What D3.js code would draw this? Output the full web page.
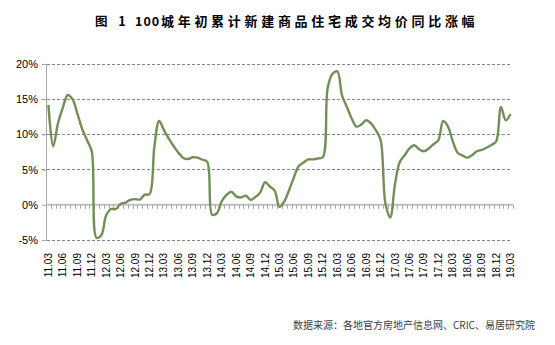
<!DOCTYPE html>
<html><head><meta charset="utf-8">
<script src="https://cdn.jsdelivr.net/npm/d3@7"></script>
<style>body{margin:0;background:#fff}svg{display:block}</style>
</head><body>
<svg id="c" width="555" height="345"></svg>
<script>
const categories = [
"11.03","11.04","11.05","11.06","11.07","11.08","11.09","11.10","11.11","11.12",
"12.01","12.02","12.03","12.04","12.05","12.06","12.07","12.08","12.09","12.10","12.11","12.12",
"13.01","13.02","13.03","13.04","13.05","13.06","13.07","13.08","13.09","13.10","13.11","13.12",
"14.01","14.02","14.03","14.04","14.05","14.06","14.07","14.08","14.09","14.10","14.11","14.12",
"15.01","15.02","15.03","15.04","15.05","15.06","15.07","15.08","15.09","15.10","15.11","15.12",
"16.01","16.02","16.03","16.04","16.05","16.06","16.07","16.08","16.09","16.10","16.11","16.12",
"17.01","17.02","17.03","17.04","17.05","17.06","17.07","17.08","17.09","17.10","17.11","17.12",
"18.01","18.02","18.03","18.04","18.05","18.06","18.07","18.08","18.09","18.10","18.11","18.12",
"19.01","19.02","19.03"];
const values = [
14.2,8.3,11.6,13.8,15.6,15.0,13.0,10.8,9.2,7.6,
-4.7,-4.3,-1.5,-0.6,-0.6,0.15,0.3,0.7,0.8,0.75,1.45,1.5,
8.2,11.9,10.6,9.4,8.35,7.4,6.65,6.5,6.75,6.7,6.4,6.1,
-1.4,-1.2,0.5,1.4,1.85,1.2,1.05,1.3,0.7,1.1,1.75,3.2,
2.6,2.0,-0.3,0.5,2.1,3.9,5.5,6.0,6.45,6.45,6.6,6.75,
16.6,18.6,18.95,15.5,13.9,12.25,11.1,11.4,12.0,11.55,10.6,9.2,
0.2,-1.8,3.0,6.1,7.05,8.0,8.45,7.9,7.6,8.0,8.6,9.2,
11.9,11.1,9.0,7.4,7.0,6.7,7.05,7.6,7.8,8.1,8.5,9.0,
13.9,12.0,12.9];
const yTicks = [-5,0,5,10,15,20];
const tickLabels = ["11.03","11.06","11.09","11.12","12.03","12.06","12.09","12.12","13.03","13.06","13.09","13.12","14.03","14.06","14.09","14.12","15.03","15.06","15.09","15.12","16.03","16.06","16.09","16.12","17.03","17.06","17.09","17.12","18.03","18.06","18.09","18.12","19.03"];
const titleA = "图 1", titleB = "100", titleC = "城年初累计新建商品住宅成交均价同比涨幅";
const source = "数据来源：各地官方房地产信息网、CRIC、易居研究院";

const svg = d3.select("#c");
const L = 46, R = 513, T = 64, B = 240;
const x = d3.scaleBand().domain(categories).range([L, R]).paddingInner(0).paddingOuter(0);
const y = d3.scaleLinear().domain([-5, 20]).range([B, T]);
const cx = d => x(d) + x.bandwidth() / 2;

// gridlines
svg.append("g").selectAll("line").data(yTicks.filter(v => v !== 0)).join("line")
  .attr("x1", L - 4).attr("x2", R - 1).attr("y1", d => y(d)).attr("y2", d => y(d))
  .attr("stroke", "#868686").attr("stroke-width", 1).attr("stroke-dasharray", "3,2")
  .attr("shape-rendering", "crispEdges");

// y axis
const ya = svg.append("g").attr("transform", `translate(${L},0)`)
  .call(d3.axisLeft(y).tickValues(yTicks).tickSize(4).tickFormat(d => d + "%"));
ya.select(".domain").attr("stroke", "#a6a6a6");
ya.selectAll(".tick line").attr("stroke", "#a6a6a6");
ya.selectAll("text").attr("font-family", "Liberation Sans, Arial, sans-serif")
  .attr("font-size", 11).attr("fill", "#000").attr("x", -8);

// x axis at zero
const xg = svg.append("g");
xg.append("line").attr("x1", L).attr("x2", R).attr("y1", y(0)).attr("y2", y(0))
  .attr("stroke", "#c0c0c0").attr("stroke-width", 2);
const bounds = categories.map(c => x(c)).concat([R]);
xg.selectAll("line.t").data(bounds).join("line").attr("class", "t")
  .attr("x1", d => Math.round(d) + 0.5).attr("x2", d => Math.round(d) + 0.5)
  .attr("y1", y(0)).attr("y2", y(0) + 4).attr("stroke", "#a6a6a6");

// x labels
svg.append("g").selectAll("text").data(tickLabels).join("text")
  .attr("transform", d => `translate(${cx(d) + 3.5},253) rotate(-90)`)
  .attr("text-anchor", "end")
  .attr("font-family", "Liberation Sans, Arial, sans-serif").attr("font-size", 10)
  .attr("fill", "#000").text(d => d);

// line
const line = d3.line().x((d, i) => cx(categories[i])).y(d => y(d)).curve(d3.curveCatmullRom.alpha(0.5));
svg.append("path").datum(values).attr("d", line).attr("fill", "none")
  .attr("stroke", "#728f5a").attr("stroke-width", 2.4).attr("stroke-linejoin", "round");

// title
const tf = "'Noto Sans CJK SC', sans-serif";
svg.append("text").attr("x", 95).attr("y", 26).attr("font-family", tf).attr("font-weight", 700)
  .attr("font-size", 12.5).attr("letter-spacing", 4).text(titleA);
svg.append("text").attr("x", 135).attr("y", 26).attr("font-family", tf).attr("font-weight", 700)
  .attr("font-size", 12.5).attr("letter-spacing", 1).text(titleB);
svg.append("text").attr("x", 161).attr("y", 26).attr("font-family", tf).attr("font-weight", 700)
  .attr("font-size", 13).attr("letter-spacing", 3.7).text(titleC);

// source
svg.append("text").attr("x", 535).attr("y", 329).attr("text-anchor", "end")
  .attr("font-family", tf).attr("font-size", 10).attr("fill", "#404040").text(source);
</script>
</body></html>
